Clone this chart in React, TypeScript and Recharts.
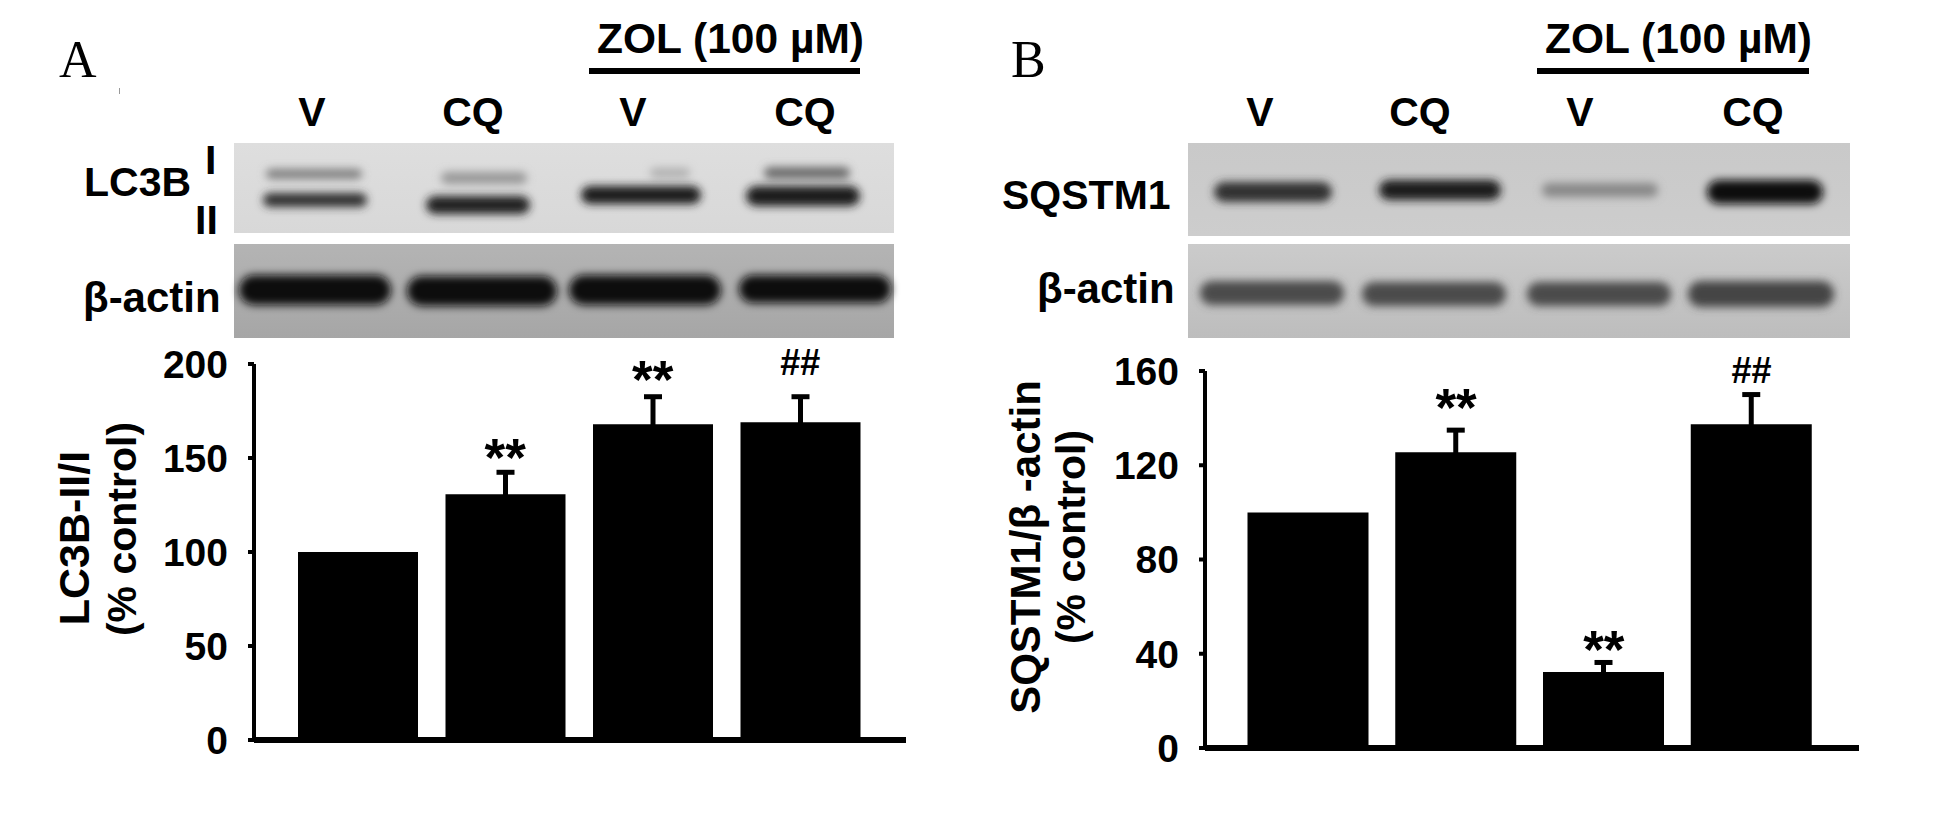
import { Bar, ComposedChart, ErrorBar, LabelList, Line, XAxis, YAxis } from 'recharts';

const lanes = ['V', 'CQ', 'ZOL V', 'ZOL CQ'];
const laneLabels = ['V', 'CQ', 'V', 'CQ'];

const lc3bValues = [100, 130.7, 168, 169];
const lc3bErrors = [null, 11.7, 14.6, 13.6];
const lc3bMarks = [null, '**', '**', '##'];
const lc3bMarkAt = [null, 140.4, 182, 194];
const lc3bTicks = [0, 50, 100, 150, 200];

const sqstmValues = [100, 125.5, 32.3, 137.4];
const sqstmErrors = [null, 9.4, 4, 12.6];
const sqstmMarks = [null, '**', '**', '##'];
const sqstmMarkAt = [null, 136.7, 34, 154.8];
const sqstmTicks = [0, 40, 80, 120, 160];

const SANS = '"Liberation Sans", Arial, sans-serif';
const SERIF = '"Liberation Serif", "Times New Roman", serif';

const buildRows = (values, errors, marks, markAt) =>
  lanes.map((lane, i) => ({ lane, value: values[i], err: errors[i], mark: marks[i], markAt: markAt[i] }));

const MarkLabel = (props) => {
  const { x, y, value } = props;
  if (!value) return null;
  const isHash = value === '##';
  return (
    <text x={x} y={y} textAnchor="middle" fontFamily={SANS} fontWeight="bold" fontSize={isHash ? 36 : 53} fill="#000">
      {value}
    </text>
  );
};

function Panel({ left, rows, ticks, max, margin, padding, barSize }) {
  return (
    <div style={{ position: 'absolute', left, top: 340 }}>
      <ComposedChart width={960} height={440} data={rows} margin={margin}>
        <XAxis
          dataKey="lane"
          height={1}
          tick={false}
          tickLine={false}
          padding={padding}
          axisLine={{ stroke: '#000', strokeWidth: 6 }}
        />
        <YAxis
          domain={[0, max]}
          ticks={ticks}
          interval={0}
          width={margin.yWidth}
          tickSize={6}
          tickMargin={20}
          axisLine={{ stroke: '#000', strokeWidth: 4 }}
          tickLine={{ stroke: '#000', strokeWidth: 4 }}
          tick={{ fill: '#000', fontSize: 39, fontWeight: 'bold', fontFamily: SANS }}
        />
        <Bar dataKey="value" fill="#000" barSize={barSize} isAnimationActive={false}>
          <ErrorBar dataKey="err" width={9} strokeWidth={5} stroke="#000" direction="y" isAnimationActive={false} />
        </Bar>
        <Line dataKey="markAt" stroke="none" dot={false} activeDot={false} legendType="none" isAnimationActive={false}>
          <LabelList dataKey="mark" content={MarkLabel} />
        </Line>
      </ComposedChart>
    </div>
  );
}

// blot bands, drawn as blurred strips
const blots = [
  {
    x: 234, y: 143, w: 660, h: 90, top: '#dedede', bottom: '#d8d8d8',
    bands: [
      [314, 174, 48, 5, '#808080'], [484, 178, 43, 6, '#989898'], [670, 173, 20, 5, '#b0b0b0'], [807, 173, 43, 6, '#6c6c6c'],
      [315, 200, 52, 7, '#333'], [478, 205, 52, 9, '#242424'], [641, 195, 60, 9, '#1e1e1e'], [803, 196, 57, 10, '#1a1a1a'],
    ],
  },
  {
    x: 234, y: 244, w: 660, h: 94, top: '#b4b4b4', bottom: '#a6a6a6',
    bands: [
      [315, 290, 76, 15, '#101010'], [482, 291, 75, 15, '#101010'], [645, 290, 76, 15, '#101010'], [815, 289, 76, 14, '#101010'],
    ],
  },
  {
    x: 1188, y: 143, w: 662, h: 93, top: '#c9c9c9', bottom: '#cdcdcd',
    bands: [
      [1273, 192, 59, 10, '#303030'], [1440, 190, 61, 10, '#1c1c1c'], [1600, 190, 58, 7, '#888'], [1765, 192, 58, 12, '#0c0c0c'],
    ],
  },
  {
    x: 1188, y: 244, w: 662, h: 94, top: '#cbcbcb', bottom: '#bdbdbd',
    bands: [
      [1272, 293, 72, 12, '#4c4c4c'], [1434, 294, 72, 12, '#4c4c4c'], [1599, 294, 72, 12, '#4c4c4c'], [1761, 294, 73, 13, '#444'],
    ],
  },
];

const laneLabelX = [
  [312, 473, 633, 805],
  [1260, 1420, 1580, 1753],
];

function Overlay() {
  const bold = { fontFamily: SANS, fontWeight: 'bold', fontSize: 41, fill: '#000' };
  return (
    <svg width={1936} height={834} style={{ position: 'absolute', left: 0, top: 0 }}>
      <defs>
        <filter id="bandBlur" x="-20%" y="-150%" width="140%" height="400%">
          <feGaussianBlur stdDeviation="4.5" />
        </filter>
        {blots.map((b, i) => (
          <linearGradient key={i} id={`blot${i}`} x1="0" y1="0" x2="0" y2="1">
            <stop offset="0%" stopColor={b.top} />
            <stop offset="100%" stopColor={b.bottom} />
          </linearGradient>
        ))}
      </defs>

      {blots.map((b, i) => (
        <g key={i}>
          <rect x={b.x} y={b.y} width={b.w} height={b.h} fill={`url(#blot${i})`} />
          {b.bands.map(([cx, cy, rx, ry, color], j) => (
            <rect key={j} x={cx - rx} y={cy - ry} width={rx * 2} height={ry * 2} rx={ry} fill={color} filter="url(#bandBlur)" />
          ))}
        </g>
      ))}

      <text x={59} y={77} fontFamily={SERIF} fontSize={52} fill="#000">A</text>
      <text x={1011} y={77} fontFamily={SERIF} fontSize={52} fill="#000">B</text>
      <rect x={119} y={88} width={1} height={6} fill="#999" />

      <text x={597} y={53} {...bold} fontSize={42.5}>ZOL (100 µM)</text>
      <rect x={589} y={68} width={271} height={6} fill="#000" />
      <text x={1545} y={53} {...bold} fontSize={42.5}>ZOL (100 µM)</text>
      <rect x={1537} y={68} width={272} height={6} fill="#000" />

      {laneLabelX.map((xs, p) =>
        xs.map((x, i) => (
          <text key={`${p}-${i}`} x={x} y={126} textAnchor="middle" {...bold}>{laneLabels[i]}</text>
        )),
      )}

      <text x={84} y={196} {...bold}>LC3B</text>
      <text x={205} y={174} {...bold}>I</text>
      <text x={195} y={234} {...bold}>II</text>
      <text x={83} y={312} {...bold} fontSize={42}>β-actin</text>
      <text x={1002} y={209} {...bold}>SQSTM1</text>
      <text x={1037} y={303} {...bold} fontSize={42}>β-actin</text>

      <text transform="translate(89 538) rotate(-90)" textAnchor="middle" {...bold} fontSize={43}>LC3B-II/I</text>
      <text transform="translate(136 529) rotate(-90)" textAnchor="middle" {...bold} fontSize={41}>(% control)</text>
      <text transform="translate(1040 547) rotate(-90)" textAnchor="middle" {...bold} fontSize={42}>SQSTM1/β -actin</text>
      <text transform="translate(1085 537) rotate(-90)" textAnchor="middle" {...bold}>(% control)</text>
    </svg>
  );
}

export default function App() {
  return (
    <div style={{ position: 'absolute', left: 0, top: 0, width: 1936, height: 834, background: '#fff', overflow: 'hidden' }}>
      <Overlay />
      <Panel
        left={0}
        rows={buildRows(lc3bValues, lc3bErrors, lc3bMarks, lc3bMarkAt)}
        ticks={lc3bTicks}
        max={200}
        margin={{ top: 24, right: 54, bottom: 39, left: 0, yWidth: 254 }}
        padding={{ left: 30, right: 32 }}
        barSize={120}
      />
      <Panel
        left={960}
        rows={buildRows(sqstmValues, sqstmErrors, sqstmMarks, sqstmMarkAt)}
        ticks={sqstmTicks}
        max={160}
        margin={{ top: 31, right: 61, bottom: 31, left: 0, yWidth: 245 }}
        padding={{ left: 29.5, right: 33.5 }}
        barSize={121}
      />
    </div>
  );
}
